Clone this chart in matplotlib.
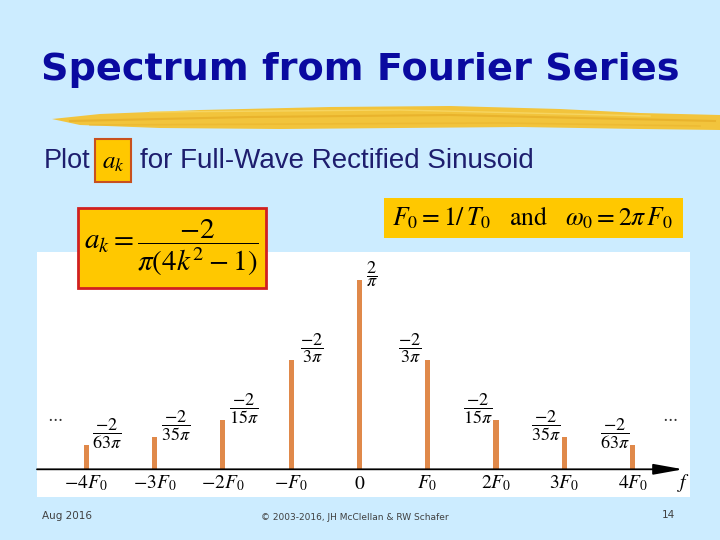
import matplotlib
matplotlib.use('Agg')
import matplotlib.pyplot as plt
from matplotlib.patches import Rectangle, Polygon

plt.rcParams['mathtext.fontset'] = 'stix'

# harmonic index k (frequency k*F0)
harmonics = [-4, -3, -2, -1, 0, 1, 2, 3, 4]
tick_labels = [r'$-4F_0$', r'$-3F_0$', r'$-2F_0$', r'$-F_0$', r'$0$',
               r'$F_0$', r'$2F_0$', r'$3F_0$', r'$4F_0$']
coef_labels = [r'$\dfrac{-2}{63\pi}$', r'$\dfrac{-2}{35\pi}$', r'$\dfrac{-2}{15\pi}$',
               r'$\dfrac{-2}{3\pi}$', r'$\dfrac{2}{\pi}$', r'$\dfrac{-2}{3\pi}$',
               r'$\dfrac{-2}{15\pi}$', r'$\dfrac{-2}{35\pi}$', r'$\dfrac{-2}{63\pi}$']
# drawn line lengths (schematic, not to scale)
bar_heights = [24, 32, 49, 109, 189, 109, 49, 32, 24]

bg_col = '#CCECFF'
box_col = '#FFC800'
bar_col = '#E0894A'

fig = plt.figure(figsize=(7.2, 5.4), dpi=100, facecolor=bg_col)

# slide layer (pixel coords), drawn above the chart panel
bg = fig.add_axes([0, 0, 1, 1])
bg.set_xlim(0, 720)
bg.set_ylim(540, 0)
bg.axis('off')
bg.set_zorder(2)

bg.text(360, 80, 'Spectrum from Fourier Series', ha='center', va='baseline',
        fontsize=27.5, fontweight='bold', color='#0A0AA0', family='DejaVu Sans')

# brush stroke under the title
brush = [(52, 119), (100, 114), (200, 110), (330, 107), (450, 106), (560, 109),
         (640, 113), (720, 115), (720, 130), (640, 129), (520, 127), (400, 128),
         (280, 129), (160, 128), (80, 125)]
bg.add_patch(Polygon(brush, closed=True, fc='#F2C43C', ec='none'))
bg.plot([70, 250, 450, 715], [121, 117, 115, 121], color='#E2A520', lw=1.5, alpha=0.55)
bg.plot([90, 300, 500, 700], [125, 124, 123, 126], color='#E9B22C', lw=1.2, alpha=0.5)
bg.plot([150, 400, 650], [112, 110, 116], color='#F8DC70', lw=1.0, alpha=0.7)

# subtitle
bg.text(44, 168, 'Plot', ha='left', va='baseline', fontsize=19.5,
        color='#1E1E6E', family='Liberation Sans')
bg.add_patch(Rectangle((95, 139), 36, 43, fc=box_col, ec='#C8501E', lw=1.5))
bg.text(113, 162, r'$a_k$', ha='center', va='center', fontsize=18, color='black')
bg.text(140, 168, 'for Full-Wave Rectified Sinusoid', ha='left', va='baseline',
        fontsize=20, color='#1E1E6E', family='Liberation Sans')

# formula boxes
bg.add_patch(Rectangle((78, 208), 188, 80, fc=box_col, ec='#D02020', lw=2))
bg.text(171, 248, r'$a_k = \dfrac{-2}{\pi(4k^2-1)}$', ha='center', va='center',
        fontsize=21, color='black')
bg.add_patch(Rectangle((384, 198), 299, 40, fc=box_col, ec='none'))
bg.text(533, 218, r'$F_0 = 1/\,T_0\quad \mathrm{and}\quad \omega_0 = 2\pi\, F_0$',
        ha='center', va='center', fontsize=18.5, color='black')

# footer
bg.text(42, 516, 'Aug 2016', ha='left', va='center', fontsize=7.5, color='#404040')
bg.text(355, 518, '\u00a9 2003-2016, JH McClellan & RW Schafer', ha='center',
        va='center', fontsize=6.5, color='#404040')
bg.text(668, 515, '14', ha='center', va='center', fontsize=7.5, color='#404040')

# chart panel
ax = fig.add_axes([37 / 720, 43 / 540, 653 / 720, 245 / 540])
ax.set_zorder(1)
ax.set_facecolor('white')
for s in ax.spines.values():
    s.set_visible(False)
ax.set_xticks([])
ax.set_yticks([])
ax.set_xlim(-4.72, 4.84)
ax.set_ylim(-27.7, 217.3)

ax.bar(harmonics, bar_heights, width=0.075, color=bar_col, zorder=2)
ax.annotate('', xy=(4.74, 0), xytext=(-4.72, 0),
            arrowprops=dict(arrowstyle='-|>,head_length=1.0,head_width=0.18',
                            color='black', lw=1.3, shrinkA=0, shrinkB=0,
                            mutation_scale=18), zorder=3)

for k, h, lab, tl in zip(harmonics, bar_heights, coef_labels, tick_labels):
    if k < 0:
        dx, dy = 21, 12
    elif k > 0:
        dx, dy = -18, 12
    else:
        dx, dy = 12, 6
    ax.annotate(lab, xy=(k, h), xytext=(dx * 0.72, dy * 0.72), textcoords='offset points',
                ha='center', va='center', fontsize=13)
    ax.annotate(tl, xy=(k, 0), xytext=(0, -14 * 0.72), textcoords='offset points',
                ha='center', va='center', fontsize=14)

ax.annotate(r'$f$', xy=(4.70, 0), xytext=(3 * 0.72, -14 * 0.72),
            textcoords='offset points', ha='center', va='center', fontsize=14)
ax.text(-4.455, 52.3, r'$\cdots$', ha='center', va='center', fontsize=12, color='#333333')
ax.text(4.55, 52.3, r'$\cdots$', ha='center', va='center', fontsize=12, color='#333333')

fig.savefig('out.png', dpi=100, facecolor=bg_col)
